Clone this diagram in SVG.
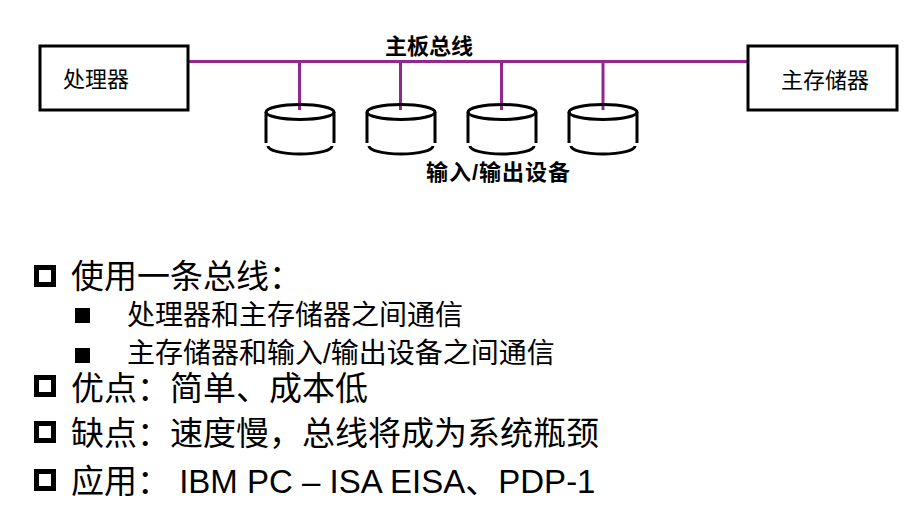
<svg xmlns="http://www.w3.org/2000/svg" width="924" height="514" viewBox="0 0 924 514">
<style>
.box{fill:#fff;stroke:#000;stroke-width:3}
.bus{stroke:#93278F;stroke-width:3;fill:none}
.cyl{fill:none;stroke:#000;stroke-width:3}
.t{font-family:"Liberation Sans","Noto Sans CJK SC",sans-serif;fill:#000}
.lbl{font-size:22px;font-weight:bold}
.nd{font-size:22px}
.l1{font-size:33px}
.l2{font-size:28px}
.hb{fill:none;stroke:#000;stroke-width:5}
</style>
<rect width="924" height="514" fill="#fff"/>
<g id="connectors">
<line class="bus" x1="189" y1="61.5" x2="748" y2="61.5"/>
<line class="bus" x1="299.5" y1="61.5" x2="299.5" y2="110"/>
<line class="bus" x1="400.5" y1="61.5" x2="400.5" y2="110"/>
<line class="bus" x1="501.5" y1="61.5" x2="501.5" y2="110"/>
<line class="bus" x1="603" y1="61.5" x2="603" y2="110"/>
</g>
<g id="processor">
<rect class="box" x="40" y="46" width="148" height="64"/>
<text class="t nd" x="63" y="87">处理器</text>
</g>
<g id="memory">
<rect class="box" x="748" y="46" width="149" height="64"/>
<text class="t nd" x="781" y="88">主存储器</text>
</g>
<g id="bus-label">
<text class="t lbl" x="385" y="54">主板总线</text>
</g>
<g id="io1">
<ellipse class="cyl" cx="300" cy="112" rx="34" ry="7.5"/>
<path class="cyl" d="M266 112V143M334 112V143M268 146A32 8 0 0 0 332 146"/>
</g>
<g id="io2">
<ellipse class="cyl" cx="401" cy="112" rx="34" ry="7.5"/>
<path class="cyl" d="M367 112V143M435 112V143M369 146A32 8 0 0 0 433 146"/>
</g>
<g id="io3">
<ellipse class="cyl" cx="502" cy="112" rx="34" ry="7.5"/>
<path class="cyl" d="M468 112V143M536 112V143M470 146A32 8 0 0 0 534 146"/>
</g>
<g id="io4">
<ellipse class="cyl" cx="603" cy="112" rx="34" ry="7.5"/>
<path class="cyl" d="M569 112V143M637 112V143M571 146A32 8 0 0 0 635 146"/>
</g>
<g id="io-label">
<text class="t lbl" x="426" y="180" letter-spacing="1">输入/输出设备</text>
</g>
<g id="bullets">
<rect class="hb" x="36.5" y="267.5" width="17" height="17"/>
<text class="t l1" x="71" y="288">使用一条总线：</text>
<rect x="75" y="308" width="15" height="15" fill="#000"/>
<text class="t l2" x="127" y="325">处理器和主存储器之间通信</text>
<rect x="75" y="348" width="15" height="15" fill="#000"/>
<text class="t l2" x="127" y="363">主存储器和输入/输出设备之间通信</text>
<rect class="hb" x="36.5" y="377.5" width="17" height="17"/>
<text class="t l1" x="71" y="400">优点：简单、成本低</text>
<rect class="hb" x="36.5" y="423.5" width="17" height="17"/>
<text class="t l1" x="71" y="445">缺点：速度慢，总线将成为系统瓶颈</text>
<rect class="hb" x="36.5" y="471.5" width="17" height="17"/>
<text class="t l1" x="71" y="493">应用： IBM PC – ISA EISA、PDP-1</text>
</g>
</svg>
